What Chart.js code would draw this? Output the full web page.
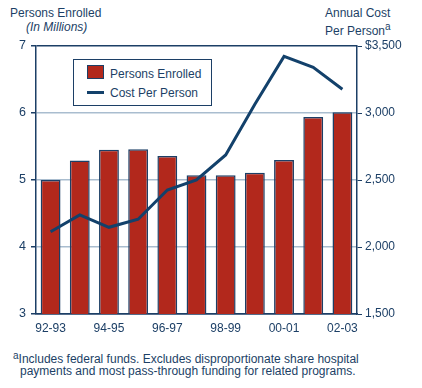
<!DOCTYPE html>
<html>
<head>
<meta charset="utf-8">
<script src="https://cdn.jsdelivr.net/npm/chart.js@4"></script>
<style>
  body { margin:0; width:422px; height:388px; position:relative; background:#fff;
         font-family:"Liberation Sans", Arial, sans-serif; color:#1c3f66; overflow:hidden; }
  .txt { position:absolute; font-size:12px; line-height:14px; white-space:nowrap; }
  #wrap { position:absolute; left:0; top:0; width:422px; height:340px; }
  #legend { position:absolute; left:73px; top:59px; width:137px; height:45px;
            border:1.5px solid #1c3f66; background:#fff; }
  .sw { position:absolute; left:13px; }
  .lt { position:absolute; left:36px; font-size:12px; line-height:16px; white-space:nowrap; }
</style>
</head>
<body>
<div class="txt" style="left:10px;top:6px">Persons Enrolled</div>
<div class="txt" style="left:26px;top:20px;font-style:italic">(In Millions)</div>
<div class="txt" style="left:325px;top:6px">Annual Cost</div>
<div class="txt" style="left:325px;top:20px">Per Person<sup style="font-size:10px;vertical-align:5px">a</sup></div>
<div id="wrap"><canvas id="chart"></canvas></div>
<div id="legend">
  <span class="sw" style="top:5px;width:15px;height:12px;background:#b2281c;border:1px solid #1c3f66"></span>
  <span class="lt" style="top:6px">Persons Enrolled</span>
  <span class="sw" style="top:31px;width:17px;height:3px;background:#13416b"></span>
  <span class="lt" style="top:25px">Cost Per Person</span>
</div>
<div class="txt" style="left:13px;top:349px"><sup style="font-size:10px;vertical-align:4px">a</sup>Includes federal funds. Excludes disproportionate share hospital</div>
<div class="txt" style="left:20px;top:364px">payments and most pass-through funding for related programs.</div>

<script>
const YEARS    = ['92-93','93-94','94-95','95-96','96-97','97-98','98-99','99-00','00-01','01-02','02-03'];
const ENROLLED = [5.00, 5.29, 5.45, 5.46, 5.36, 5.07, 5.07, 5.11, 5.30, 5.94, 6.01];
const COST     = [2114, 2239, 2147, 2207, 2425, 2500, 2687, 3065, 3422, 3341, 3177];

const NAVY  = '#1c3f66';
const LIGHT = '#a9bdcf';

new Chart(document.getElementById('chart'), {
  data: {
    labels: YEARS,
    datasets: [
      { type: 'line', label: 'Cost Per Person', data: COST, yAxisID: 'y2', order: 0,
        borderColor: '#13416b', borderWidth: 3, pointRadius: 0, tension: 0, fill: false },
      { type: 'bar', label: 'Persons Enrolled', data: ENROLLED, yAxisID: 'y', order: 1,
        backgroundColor: '#b2281c', borderColor: NAVY, borderWidth: 1.5,
        barPercentage: 0.68, categoryPercentage: 1 },
    ],
  },
  options: {
    responsive: true, maintainAspectRatio: false, animation: false,
    layout: { padding: { top: 46, left: 0, right: 0, bottom: 0 } },
    plugins: { legend: { display: false }, tooltip: { enabled: false } },
    scales: {
      x: {
        offset: true,
        grid: { display: true, drawOnChartArea: false, drawTicks: false },
        border: { display: true, color: NAVY, width: 1.5 },
        ticks: { autoSkip: false, maxRotation: 0, color: NAVY, padding: 7,
                 font: { family: 'Liberation Sans', size: 12 },
                 callback: (v, i) => i % 2 === 0 ? YEARS[i] : '' },
        afterFit: s => { s.height = 26; },
      },
      y: {
        position: 'left', min: 3, max: 7,
        ticks: { stepSize: 1, color: NAVY, padding: 5, font: { family: 'Liberation Sans', size: 12.5 } },
        grid: { color: c => (c.tick.value === 7 || c.tick.value === 3) ? NAVY : LIGHT,
                lineWidth: 1.5, tickColor: NAVY, tickLength: 5 },
        border: { color: NAVY, width: 1.5 },
        afterFit: s => { s.width = 36; },
      },
      y2: {
        position: 'right', min: 1500, max: 3500,
        ticks: { stepSize: 500, color: NAVY, padding: 3, font: { family: 'Liberation Sans', size: 12 },
                 callback: v => (v === 3500 ? '$' : '') + v.toLocaleString('en-US') },
        grid: { drawOnChartArea: false, tickColor: NAVY, tickLength: 5 },
        border: { color: NAVY, width: 1.5 },
        afterFit: s => { s.width = 65; },
      },
    },
  },
});
</script>
</body>
</html>
